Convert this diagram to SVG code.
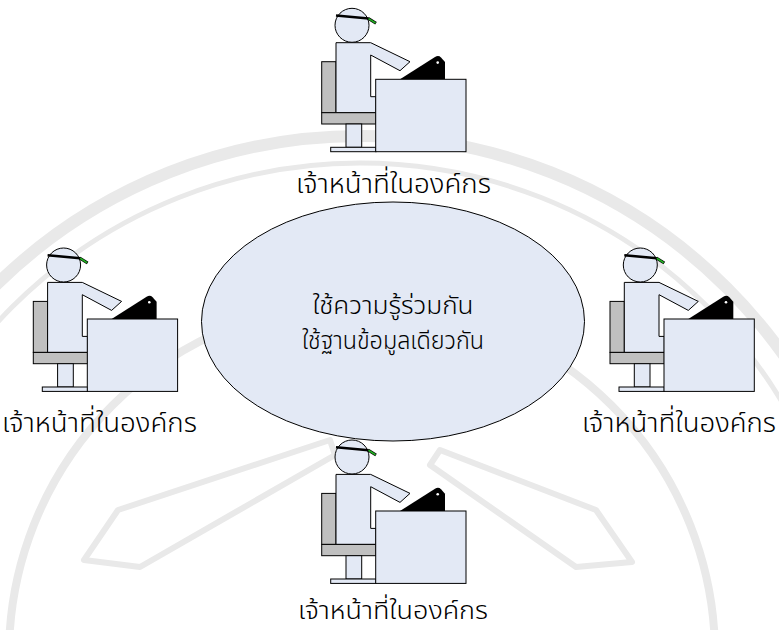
<svg xmlns="http://www.w3.org/2000/svg" xmlns:xlink="http://www.w3.org/1999/xlink" width="779" height="630" viewBox="0 0 779 630">
  <style>
    .wm { fill: none; stroke: #e9e9e9; stroke-linejoin: round; }
    .light { fill: #e3e9f5; stroke: #000; stroke-width: 1; }
    .grey { fill: #c0c0c0; stroke: #000; stroke-width: 1; }
    .label { font-family: "Noto Sans Thai", "Noto Sans", "DejaVu Sans", sans-serif; font-size: 27px; font-weight: 300; fill: #000; }
    .inner { font-size: 24px; }
    .low { font-size: 25px; }
  </style>
  <defs>
    <!-- seated staff member at a desk with a monitor -->
    <g id="person">
      <rect class="grey" x="321.7" y="61.7" width="14.3" height="51"/>
      <polygon class="light" points="336,42.7 370.7,42.7 410,61.7 400,70.7 370.7,55 370.7,96.7 376,96.7 376,112.7 336,112.7"/>
      <rect class="grey" x="321.7" y="112.7" width="54.3" height="11.3"/>
      <rect class="light" x="346" y="124" width="15.7" height="23.3"/>
      <rect class="light" x="330.7" y="147.3" width="45.3" height="4.4"/>
      <path d="M400,79.3 L435,57 Q438.5,55 441,57.5 L445,62 L445,79.3 Z" fill="#000"/>
      <circle cx="437.7" cy="62.6" r="1.3" fill="#fff"/>
      <rect class="light" x="375.7" y="79.3" width="90.3" height="72.4"/>
      <circle class="light" cx="352" cy="25.3" r="17"/>
      <line x1="336" y1="15.5" x2="368.5" y2="18.5" stroke="#000" stroke-width="2.5"/>
      <line x1="368" y1="18.3" x2="376" y2="23.3" stroke="#000" stroke-width="3"/>
      <line x1="368.5" y1="18.6" x2="375.5" y2="23" stroke="#22b022" stroke-width="1.6"/>
    </g>
  </defs>

  <rect width="779" height="630" fill="#fff"/>

  <!-- faint seal in the background -->
  <g id="seal">
    <circle class="wm" cx="360" cy="655" r="519" stroke-width="12"/>
    <circle class="wm" cx="360" cy="655" r="492" stroke-width="5"/>
    <circle class="wm" cx="362" cy="655" r="353" stroke-width="8"/>
    <polygon class="wm" stroke-width="6" points="330,440 118,510 84,560 140,567 335,455"/>
    <polygon class="wm" stroke-width="6" points="440,450 596,510 632,562 576,567 430,465"/>
  </g>

  <!-- shared knowledge -->
  <g id="shared-knowledge">
    <ellipse class="light" cx="393" cy="321.5" rx="191.5" ry="119.5"/>
    <text class="label inner" x="393" y="314" text-anchor="middle" textLength="161" lengthAdjust="spacingAndGlyphs">ใช้ความรู้ร่วมกัน</text>
    <text class="label inner" x="393" y="349" text-anchor="middle" textLength="182" lengthAdjust="spacingAndGlyphs">ใช้ฐานข้อมูลเดียวกัน</text>
  </g>

  <g id="staff-top">
    <use xlink:href="#person"/>
    <text class="label" x="296" y="192.5" textLength="195" lengthAdjust="spacingAndGlyphs">เจ้าหน้าที่ในองค์กร</text>
  </g>
  <g id="staff-left">
    <use xlink:href="#person" transform="translate(-288.4,239.7)"/>
    <text class="label" x="2" y="431.7" textLength="195" lengthAdjust="spacingAndGlyphs">เจ้าหน้าที่ในองค์กร</text>
  </g>
  <g id="staff-right">
    <use xlink:href="#person" transform="translate(288.3,239.7)"/>
    <text class="label" x="582" y="431.7" textLength="194" lengthAdjust="spacingAndGlyphs">เจ้าหน้าที่ในองค์กร</text>
  </g>
  <g id="staff-bottom">
    <use xlink:href="#person" transform="translate(0,431.7)"/>
    <text class="label low" x="298" y="619" textLength="190" lengthAdjust="spacingAndGlyphs">เจ้าหน้าที่ในองค์กร</text>
  </g>

  <g id="connectors"/>
</svg>
